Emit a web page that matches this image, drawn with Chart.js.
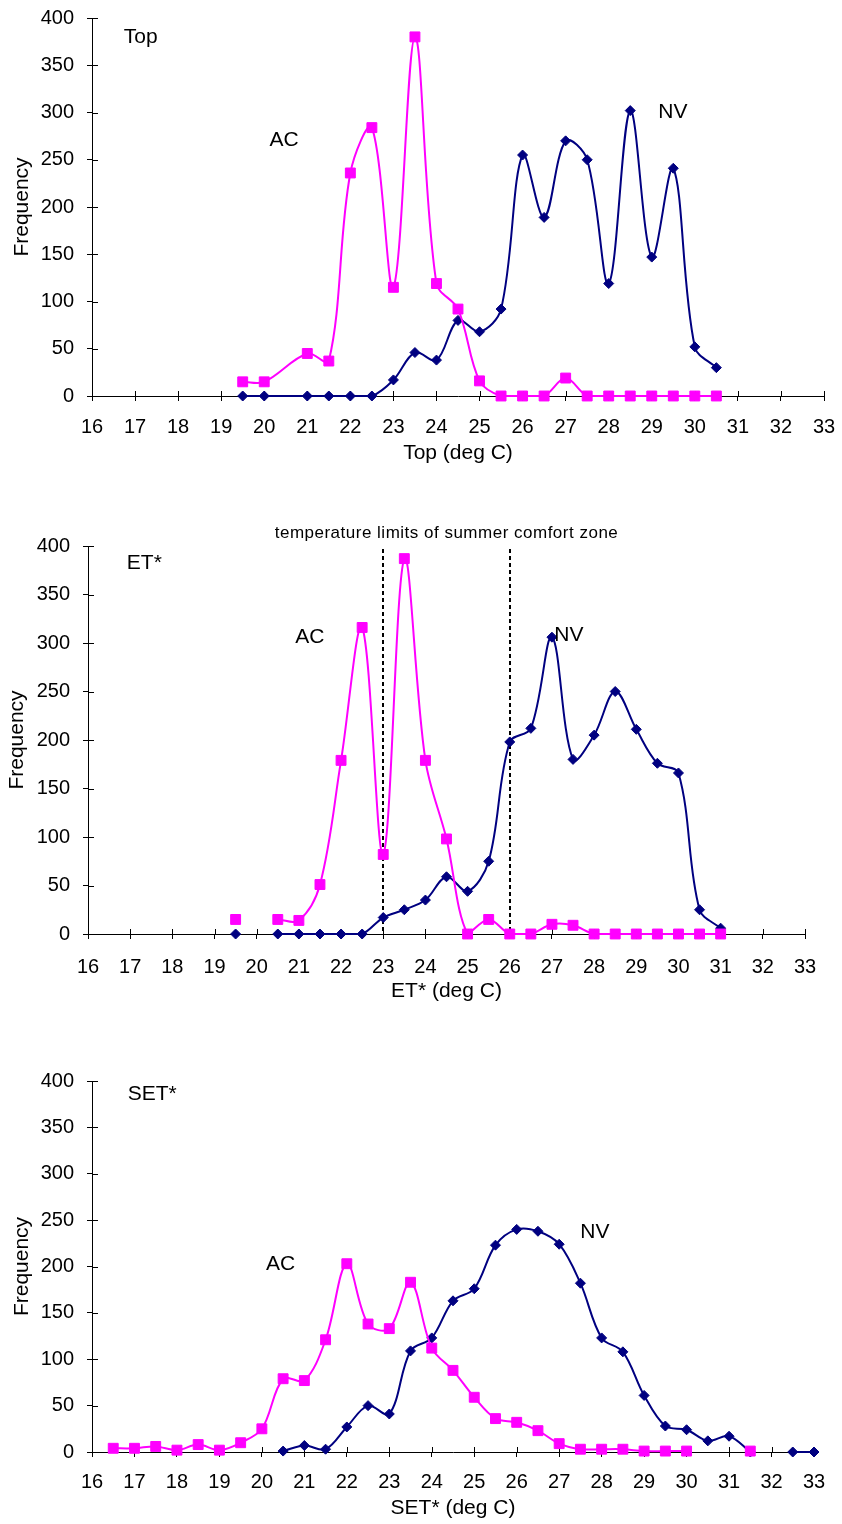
<!DOCTYPE html>
<html>
<head>
<meta charset="utf-8">
<title>Frequency of Top, ET* and SET* - AC and NV buildings</title>
<script src="https://cdn.jsdelivr.net/npm/chart.js@4.4.1/dist/chart.umd.min.js"></script>
<style>
  html, body { margin: 0; padding: 0; background: #fff; }
  #wrap { position: relative; width: 842px; height: 1524px; overflow: hidden; }
  canvas { position: absolute; left: 0; }
</style>
</head>
<body>
<div id="wrap">
  <canvas id="top-chart" width="860" height="488" style="top:-8px"></canvas>
  <canvas id="et-chart" width="842" height="520" style="top:500px"></canvas>
  <canvas id="set-chart" width="842" height="484" style="top:1040px"></canvas>
</div>
<script>
// --- Top (operative temperature) ---
const topTemps = [19.5, 20, 21, 21.5, 22, 22.5, 23, 23.5, 24, 24.5, 25, 25.5, 26, 26.5, 27, 27.5, 28, 28.5, 29, 29.5, 30, 30.5];
const topAC = [15, 15, 45, 37, 236, 284, 115, 380, 119, 92, 16, 0, 0, 0, 19, 0, 0, 0, 0, 0, 0, 0];
const topNV = [0, 0, 0, 0, 0, 0, 17, 46, 38, 80, 68, 92, 255, 189, 270, 250, 119, 302, 147, 241, 52, 30];

// --- ET* ---  (null = no bin, line breaks there)
const etTemps = [19.5, 20, 20.5, 21, 21.5, 22, 22.5, 23, 23.5, 24, 24.5, 25, 25.5, 26, 26.5, 27, 27.5, 28, 28.5, 29, 29.5, 30, 30.5, 31];
const etAC = [15, null, 15, 14, 51, 179, 316, 82, 387, 179, 98, 0, 15, 0, 0, 10, 9, 0, 0, 0, 0, 0, 0, 0];
const etNV = [0, null, 0, 0, 0, 0, 0, 17, 25, 35, 59, 44, 75, 198, 212, 306, 180, 205, 250, 211, 176, 166, 25, 6];
const comfortLimits = [23, 26];

// --- SET* ---
const setTemps = [16.5, 17, 17.5, 18, 18.5, 19, 19.5, 20, 20.5, 21, 21.5, 22, 22.5, 23, 23.5, 24, 24.5, 25, 25.5, 26, 26.5, 27, 27.5, 28, 28.5, 29, 29.5, 30, 30.5, 31, 31.5, 32, 32.5, 33];
const setAC = [4, 4, 6, 2, 8, 2, 10, 25, 79, 77, 121, 203, 138, 133, 183, 112, 88, 59, 36, 32, 23, 9, 3, 3, 3, 1, 1, 1, null, null, 1, null, null, null];
const setNV = [null, null, null, null, null, null, null, null, 1, 7, 3, 27, 50, 41, 109, 123, 163, 176, 223, 240, 238, 224, 182, 123, 108, 61, 28, 24, 12, 17, 0, null, 0, 0];

const AC_COLOR = '#ff00ff';
const NV_COLOR = '#000080';
const FONT = '"Liberation Sans", Arial, Helvetica, sans-serif';

Chart.defaults.font.family = FONT;
Chart.defaults.font.size = 20;
Chart.defaults.color = '#000';

// tick marks that cross the axis (the library only draws the outer half)
const crossTicks = {
  id: 'crossTicks',
  beforeDatasetsDraw(chart) {
    const { ctx, chartArea: a, scales: { x, y } } = chart;
    ctx.save();
    ctx.strokeStyle = '#000';
    ctx.lineWidth = 1;
    ctx.beginPath();
    x.ticks.forEach(t => {
      const px = Math.round(x.getPixelForValue(t.value)) + 0.5;
      ctx.moveTo(px, a.bottom);
      ctx.lineTo(px, a.bottom - 5);
    });
    y.ticks.forEach(t => {
      const py = Math.round(y.getPixelForValue(t.value)) + 0.5;
      ctx.moveTo(a.left, py);
      ctx.lineTo(a.left + 6, py);
    });
    ctx.stroke();
    ctx.restore();
  }
};

// dotted comfort-zone limits + caption (ET* chart only)
const comfortZone = {
  id: 'comfortZone',
  beforeDatasetsDraw(chart, args, opts) {
    if (!opts.limits) return;
    const { ctx, chartArea: a, scales: { x } } = chart;
    ctx.save();
    ctx.strokeStyle = '#000';
    ctx.lineWidth = 2;
    ctx.setLineDash([4, 3]);
    opts.limits.forEach(v => {
      const px = Math.round(x.getPixelForValue(v));
      ctx.beginPath();
      ctx.moveTo(px, a.top + 3);
      ctx.lineTo(px, a.bottom);
      ctx.stroke();
    });
    ctx.setLineDash([]);
    ctx.font = '17px ' + FONT;
    if ('letterSpacing' in ctx) ctx.letterSpacing = '0.5px';
    ctx.fillStyle = '#000';
    ctx.textAlign = 'center';
    ctx.textBaseline = 'middle';
    const mid = (opts.limits[0] + opts.limits[1]) / 2;
    ctx.fillText(opts.text, x.getPixelForValue(mid), a.top - 13);
    ctx.restore();
  }
};

// text labels placed in data units
const notes = {
  id: 'notes',
  afterDatasetsDraw(chart, args, opts) {
    const { ctx, scales: { x, y } } = chart;
    ctx.save();
    ctx.fillStyle = '#000';
    ctx.font = '21px ' + FONT;
    ctx.textBaseline = 'middle';
    (opts.items || []).forEach(n => {
      ctx.textAlign = n.align || 'center';
      ctx.fillText(n.text, x.getPixelForValue(n.x), y.getPixelForValue(n.y));
    });
    ctx.restore();
  }
};

function series(label, temps, values, color, style, radius) {
  return {
    label,
    data: temps.map((t, i) => ({ x: t, y: values[i] })),
    borderColor: color,
    backgroundColor: color,
    borderWidth: 2,
    tension: 0.35,
    pointStyle: style,
    pointRadius: radius,
    pointBorderWidth: 1,
    clip: false
  };
}

function makeChart(canvasId, box, xTitle, acVals, nvVals, temps, spanGaps, noteItems, comfort) {
  const canvas = document.getElementById(canvasId);
  const W = canvas.width, H = canvas.height;
  const ac = series('AC', temps, acVals, AC_COLOR, 'rect', 7);
  const nv = series('NV', temps, nvVals, NV_COLOR, 'rectRot', 5);
  ac.spanGaps = spanGaps;
  nv.spanGaps = spanGaps;

  return new Chart(canvas.getContext('2d'), {
    type: 'line',
    data: { datasets: [ac, nv] },
    options: {
      responsive: false,
      animation: false,
      layout: { padding: { left: 0, top: box.top, right: W - box.right, bottom: 0 } },
      scales: {
        x: {
          type: 'linear',
          min: 16,
          max: 33,
          ticks: { stepSize: 1, autoSkip: false, maxRotation: 0, padding: box.xTickPad },
          grid: { drawOnChartArea: false, color: '#000', tickLength: 5 },
          border: { color: '#000', width: 1 },
          title: { display: true, text: xTitle, font: { size: 21 }, padding: { top: 0, bottom: box.xTitlePad } },
          afterFit: s => { s.height = H - box.bottom; }
        },
        y: {
          min: 0,
          max: 400,
          ticks: { stepSize: 50, autoSkip: false, padding: box.yTickPad },
          grid: { drawOnChartArea: false, color: '#000', tickLength: 5 },
          border: { color: '#000', width: 1 },
          title: { display: true, text: 'Frequency', font: { size: 21 }, padding: { top: box.yTitlePad, bottom: 0 } },
          afterFit: s => { s.width = box.left; }
        }
      },
      plugins: {
        legend: { display: false },
        tooltip: { enabled: false },
        notes: { items: noteItems },
        comfortZone: comfort || {}
      }
    },
    plugins: [crossTicks, comfortZone, notes]
  });
}

// canvas 1 sits 8px above the page top, so its box is shifted by +8
makeChart('top-chart',
  { left: 92, right: 824, top: 26, bottom: 404, xTickPad: 14, xTitlePad: 14, yTickPad: 13, yTitlePad: 10 },
  'Top (deg C)', topAC, topNV, topTemps, true,
  [
    { text: 'Top', x: 16.74, y: 380, align: 'left' },
    { text: 'AC', x: 20.46, y: 271 },
    { text: 'NV', x: 29.49, y: 300 }
  ]);

makeChart('et-chart',
  { left: 88, right: 805, top: 46, bottom: 434, xTickPad: 16, xTitlePad: 16, yTickPad: 13, yTitlePad: 5 },
  'ET* (deg C)', etAC, etNV, etTemps, false,
  [
    { text: 'ET*', x: 16.92, y: 382, align: 'left' },
    { text: 'AC', x: 21.26, y: 306 },
    { text: 'NV', x: 27.4, y: 308 }
  ],
  { limits: comfortLimits, text: 'temperature limits of summer comfort zone' });

makeChart('set-chart',
  { left: 92, right: 814, top: 41, bottom: 412, xTickPad: 13, xTitlePad: 3, yTickPad: 13, yTitlePad: 10 },
  'SET* (deg C)', setAC, setNV, setTemps, false,
  [
    { text: 'SET*', x: 16.84, y: 386, align: 'left' },
    { text: 'AC', x: 20.44, y: 203 },
    { text: 'NV', x: 27.84, y: 237 }
  ]);
</script>
</body>
</html>
